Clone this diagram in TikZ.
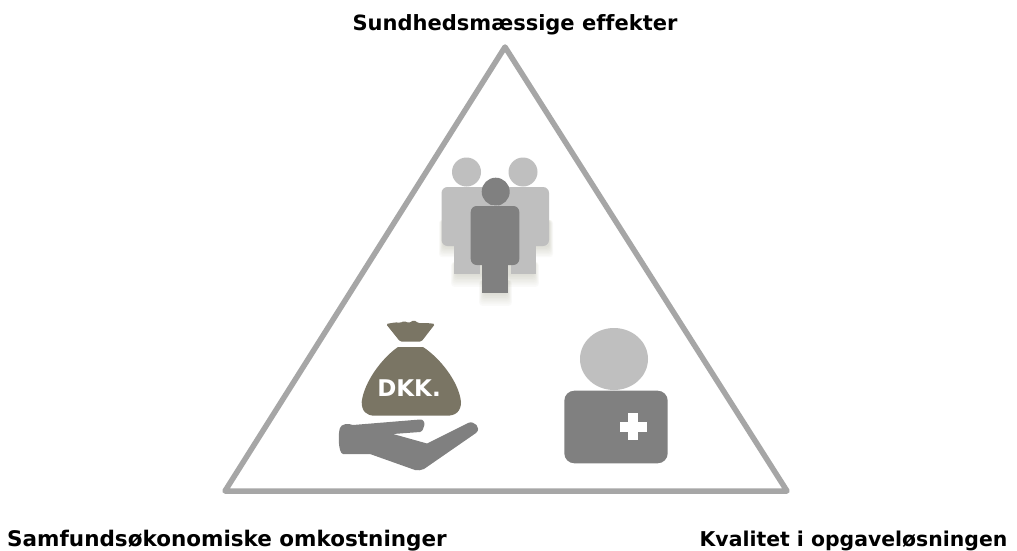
\documentclass[tikz,border=0pt]{standalone}
\usepackage{fontspec}
\setmainfont[Ligatures=CommonOff]{DejaVu Sans}
\def\S{1}
\def\U{pt}
\definecolor{linecolor}{HTML}{A6A6A6}
\definecolor{darkcolor}{HTML}{808080}
\definecolor{lightcolor}{HTML}{BFBFBF}
\definecolor{bagcolor}{HTML}{7A7564}
\definecolor{shadowcolor}{HTML}{8C8C6E}
\tikzset{
    caption/.style={font=\fontsize{21}{25}\selectfont\bfseries,text=black,inner sep=0pt,anchor=base},
    limb/.style={rounded corners=6\U},
    blur/.style={shadowcolor,opacity=0.035,rounded corners=3\U},
}
\begin{document}
\begin{tikzpicture}[x=\S\U,y=-\S\U]
\useasboundingbox (0,0) rectangle (1017,551);
\fill[white] (0,0) rectangle (1017,551);
\node[caption] (effekter) at (515,31) {Sundhedsmæssige effekter};
\node[caption,font=\fontsize{21.5}{25}\selectfont\bfseries] (omkostninger) at (227,546.7) {Samfundsøkonomiske omkostninger};
\node[caption,font=\fontsize{20.4}{25}\selectfont\bfseries] (kvalitet) at (853.5,546.7) {Kvalitet i opgaveløsningen};
\draw[linecolor,line width=5.5\U,line join=round] (505,47) -- (787,491) -- (225,491) -- cycle;
\foreach \d in {1,2,...,8}{
    \fill[blur] (456-0.6*\d,262) rectangle (534+0.6*\d,274+1.6*\d);
    \fill[blur] (484-0.6*\d,280) rectangle (507+0.6*\d,293+1.6*\d);
    \fill[blur] (443-0.5*\d,220) rectangle (549+0.5*\d,246+1.4*\d);
}
\foreach \x in {466.5,523}{
    \fill[lightcolor] (\x,172) circle (14.5);
    \fill[lightcolor,limb] (\x-25,187) rectangle (\x+26,246);
    \fill[lightcolor] (\x-12.5,240) rectangle (\x+13,274);
}
\fill[darkcolor] (495.7,191.7) circle (14);
\fill[darkcolor,limb] (470.7,206) rectangle (519.3,265);
\fill[darkcolor] (482.3,260) rectangle (508.3,293);
\fill[bagcolor,rounded corners=1.5\U] (386,324) .. controls (392,323) and (396,322) .. (400,323) -- (404,321) -- (409,323) -- (414,320) -- (418,323) .. controls (424,323) and (429,323) .. (435,324) -- (421.5,341.5) -- (400,341.5) -- cycle;
\fill[bagcolor] (398,347) -- (423,347) .. controls (440,358) and (459,382) .. (461,402) .. controls (461,411) and (456,415.7) .. (447,415.7) -- (375,415.7) .. controls (366,415.7) and (361.7,411) .. (361.7,402) .. controls (364,382) and (382,358) .. (398,347) -- cycle;
\node[font=\fontsize{23}{26}\selectfont\bfseries,text=white,inner sep=0pt] (dkk) at (409,388) {DKK.};
\fill[darkcolor] (340,428) .. controls (341,424) and (348,423) .. (353,425) -- (420,419.5) .. controls (427,419) and (424.5,431) .. (420,432) -- (393,434) -- (427,443.5) -- (468,423) .. controls (474,420) and (482,428) .. (476,433) -- (424,469) .. controls (421,470.5) and (418,470.5) .. (415,470) -- (370,454) -- (343,454) .. controls (338,453) and (338,433) .. (340,428) -- cycle;
\fill[lightcolor] (614,359) ellipse (34 and 31);
\fill[darkcolor,rounded corners=10\U] (564.3,390.7) rectangle (667.7,463.3);
\fill[white] (628.3,412.7) rectangle (638.3,439.7);
\fill[white] (619.5,421.5) rectangle (647,431.5);
\end{tikzpicture}
\end{document}
